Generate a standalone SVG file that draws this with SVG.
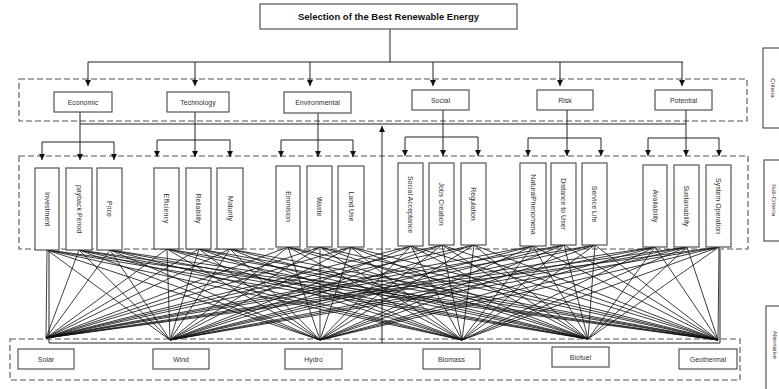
<svg xmlns="http://www.w3.org/2000/svg" width="779" height="389" viewBox="0 0 779 389">
<defs>
<marker id="arr" viewBox="0 0 10 10" refX="10" refY="5" markerWidth="6" markerHeight="6" orient="auto" markerUnits="userSpaceOnUse">
<path d="M0,0 L10,5 L0,10 z" fill="#111"/>
</marker>
</defs>
<style>
.box{fill:#fff;stroke:#444;stroke-width:1.1}
.dash{fill:none;stroke:#555;stroke-width:1.1;stroke-dasharray:6 3}
.ln{fill:none;stroke:#222;stroke-width:1}
.ar{fill:none;stroke:#222;stroke-width:1;marker-end:url(#arr)}
.m{stroke:#111;stroke-width:0.9;stroke-opacity:0.9}
.t{font-family:"Liberation Sans",Arial,sans-serif;font-size:7px;fill:#333;text-anchor:middle}
.tt{font-family:"Liberation Sans",Arial,sans-serif;font-size:9.5px;font-weight:bold;fill:#111;text-anchor:middle}
.s{font-family:"Liberation Sans",Arial,sans-serif;font-size:6px;fill:#333;text-anchor:middle}
</style>
<rect width="779" height="389" fill="#fff"/>

<!-- dashed level frames -->
<g id="frames">
<rect class="dash" x="19" y="79" width="728" height="42"/>
<rect class="dash" x="19" y="156" width="729" height="93"/>
<rect class="dash" x="10" y="339" width="730" height="41"/>
</g>

<!-- connectors -->
<g id="connectors">
<path class="ln" d="M390,29 V62 M88,62 H683"/>
<path class="ar" d="M88,62 V86"/>
<path class="ar" d="M195,62 V86"/>
<path class="ar" d="M310,62 V86"/>
<path class="ar" d="M433,62 V86"/>
<path class="ar" d="M560,62 V86"/>
<path class="ar" d="M682,62 V86"/>

<path class="ln" d="M80,112 V142 M42,142 H114"/>
<path class="ar" d="M42,142 V160"/><path class="ar" d="M80,142 V160"/><path class="ar" d="M114,142 V160"/>
<path class="ln" d="M195,112 V140 M157,140 H230"/>
<path class="ar" d="M157,140 V157"/><path class="ar" d="M195,140 V157"/><path class="ar" d="M230,140 V157"/>
<path class="ln" d="M318,113 V140 M281,140 H353"/>
<path class="ar" d="M281,140 V157"/><path class="ar" d="M318,140 V157"/><path class="ar" d="M353,140 V157"/>
<path class="ln" d="M443,110 V137 M405,137 H478"/>
<path class="ar" d="M405,137 V156"/><path class="ar" d="M443,137 V156"/><path class="ar" d="M478,137 V156"/>
<path class="ln" d="M567,110 V138 M528,138 H601"/>
<path class="ar" d="M528,138 V156"/><path class="ar" d="M567,138 V156"/><path class="ar" d="M601,138 V156"/>
<path class="ln" d="M686,110 V138 M648,138 H719"/>
<path class="ar" d="M648,138 V156"/><path class="ar" d="M686,138 V156"/><path class="ar" d="M719,138 V156"/>

<path class="ln" d="M80,124 H686"/>
<path class="ln" d="M49,248 V343 H720 V250"/>
<path class="ar" d="M382,343 V126"/>

<g id="mesh">
<line class="m" x1="47" y1="250" x2="46" y2="338"/><line class="m" x1="47" y1="250" x2="170" y2="340"/><line class="m" x1="47" y1="250" x2="320" y2="340"/><line class="m" x1="47" y1="250" x2="462" y2="340"/><line class="m" x1="47" y1="250" x2="588" y2="339"/><line class="m" x1="47" y1="250" x2="718" y2="340"/>
<line class="m" x1="79" y1="250" x2="46" y2="338"/><line class="m" x1="79" y1="250" x2="170" y2="340"/><line class="m" x1="79" y1="250" x2="320" y2="340"/><line class="m" x1="79" y1="250" x2="462" y2="340"/><line class="m" x1="79" y1="250" x2="588" y2="339"/><line class="m" x1="79" y1="250" x2="718" y2="340"/>
<line class="m" x1="110" y1="250" x2="46" y2="338"/><line class="m" x1="110" y1="250" x2="170" y2="340"/><line class="m" x1="110" y1="250" x2="320" y2="340"/><line class="m" x1="110" y1="250" x2="462" y2="340"/><line class="m" x1="110" y1="250" x2="588" y2="339"/><line class="m" x1="110" y1="250" x2="718" y2="340"/>
<line class="m" x1="167" y1="249" x2="46" y2="338"/><line class="m" x1="167" y1="249" x2="170" y2="340"/><line class="m" x1="167" y1="249" x2="320" y2="340"/><line class="m" x1="167" y1="249" x2="462" y2="340"/><line class="m" x1="167" y1="249" x2="588" y2="339"/><line class="m" x1="167" y1="249" x2="718" y2="340"/>
<line class="m" x1="199" y1="249" x2="46" y2="338"/><line class="m" x1="199" y1="249" x2="170" y2="340"/><line class="m" x1="199" y1="249" x2="320" y2="340"/><line class="m" x1="199" y1="249" x2="462" y2="340"/><line class="m" x1="199" y1="249" x2="588" y2="339"/><line class="m" x1="199" y1="249" x2="718" y2="340"/>
<line class="m" x1="230" y1="249" x2="46" y2="338"/><line class="m" x1="230" y1="249" x2="170" y2="340"/><line class="m" x1="230" y1="249" x2="320" y2="340"/><line class="m" x1="230" y1="249" x2="462" y2="340"/><line class="m" x1="230" y1="249" x2="588" y2="339"/><line class="m" x1="230" y1="249" x2="718" y2="340"/>
<line class="m" x1="288" y1="247" x2="46" y2="338"/><line class="m" x1="288" y1="247" x2="170" y2="340"/><line class="m" x1="288" y1="247" x2="320" y2="340"/><line class="m" x1="288" y1="247" x2="462" y2="340"/><line class="m" x1="288" y1="247" x2="588" y2="339"/><line class="m" x1="288" y1="247" x2="718" y2="340"/>
<line class="m" x1="320" y1="247" x2="46" y2="338"/><line class="m" x1="320" y1="247" x2="170" y2="340"/><line class="m" x1="320" y1="247" x2="320" y2="340"/><line class="m" x1="320" y1="247" x2="462" y2="340"/><line class="m" x1="320" y1="247" x2="588" y2="339"/><line class="m" x1="320" y1="247" x2="718" y2="340"/>
<line class="m" x1="351" y1="247" x2="46" y2="338"/><line class="m" x1="351" y1="247" x2="170" y2="340"/><line class="m" x1="351" y1="247" x2="320" y2="340"/><line class="m" x1="351" y1="247" x2="462" y2="340"/><line class="m" x1="351" y1="247" x2="588" y2="339"/><line class="m" x1="351" y1="247" x2="718" y2="340"/>
<line class="m" x1="411" y1="246" x2="46" y2="338"/><line class="m" x1="411" y1="246" x2="170" y2="340"/><line class="m" x1="411" y1="246" x2="320" y2="340"/><line class="m" x1="411" y1="246" x2="462" y2="340"/><line class="m" x1="411" y1="246" x2="588" y2="339"/><line class="m" x1="411" y1="246" x2="718" y2="340"/>
<line class="m" x1="442" y1="245" x2="46" y2="338"/><line class="m" x1="442" y1="245" x2="170" y2="340"/><line class="m" x1="442" y1="245" x2="320" y2="340"/><line class="m" x1="442" y1="245" x2="462" y2="340"/><line class="m" x1="442" y1="245" x2="588" y2="339"/><line class="m" x1="442" y1="245" x2="718" y2="340"/>
<line class="m" x1="474" y1="245" x2="46" y2="338"/><line class="m" x1="474" y1="245" x2="170" y2="340"/><line class="m" x1="474" y1="245" x2="320" y2="340"/><line class="m" x1="474" y1="245" x2="462" y2="340"/><line class="m" x1="474" y1="245" x2="588" y2="339"/><line class="m" x1="474" y1="245" x2="718" y2="340"/>
<line class="m" x1="533" y1="246" x2="46" y2="338"/><line class="m" x1="533" y1="246" x2="170" y2="340"/><line class="m" x1="533" y1="246" x2="320" y2="340"/><line class="m" x1="533" y1="246" x2="462" y2="340"/><line class="m" x1="533" y1="246" x2="588" y2="339"/><line class="m" x1="533" y1="246" x2="718" y2="340"/>
<line class="m" x1="564" y1="245" x2="46" y2="338"/><line class="m" x1="564" y1="245" x2="170" y2="340"/><line class="m" x1="564" y1="245" x2="320" y2="340"/><line class="m" x1="564" y1="245" x2="462" y2="340"/><line class="m" x1="564" y1="245" x2="588" y2="339"/><line class="m" x1="564" y1="245" x2="718" y2="340"/>
<line class="m" x1="595" y1="245" x2="46" y2="338"/><line class="m" x1="595" y1="245" x2="170" y2="340"/><line class="m" x1="595" y1="245" x2="320" y2="340"/><line class="m" x1="595" y1="245" x2="462" y2="340"/><line class="m" x1="595" y1="245" x2="588" y2="339"/><line class="m" x1="595" y1="245" x2="718" y2="340"/>
<line class="m" x1="655" y1="247" x2="46" y2="338"/><line class="m" x1="655" y1="247" x2="170" y2="340"/><line class="m" x1="655" y1="247" x2="320" y2="340"/><line class="m" x1="655" y1="247" x2="462" y2="340"/><line class="m" x1="655" y1="247" x2="588" y2="339"/><line class="m" x1="655" y1="247" x2="718" y2="340"/>
<line class="m" x1="687" y1="247" x2="46" y2="338"/><line class="m" x1="687" y1="247" x2="170" y2="340"/><line class="m" x1="687" y1="247" x2="320" y2="340"/><line class="m" x1="687" y1="247" x2="462" y2="340"/><line class="m" x1="687" y1="247" x2="588" y2="339"/><line class="m" x1="687" y1="247" x2="718" y2="340"/>
<line class="m" x1="719" y1="247" x2="46" y2="338"/><line class="m" x1="719" y1="247" x2="170" y2="340"/><line class="m" x1="719" y1="247" x2="320" y2="340"/><line class="m" x1="719" y1="247" x2="462" y2="340"/><line class="m" x1="719" y1="247" x2="588" y2="339"/><line class="m" x1="719" y1="247" x2="718" y2="340"/>
</g>
</g>

<!-- goal -->
<g id="goal">
<rect class="box" x="260" y="4" width="257" height="25"/>
<text class="tt" x="388.5" y="20">Selection of the Best Renewable Energy</text>
</g>

<!-- criteria -->
<g id="c-economic"><rect class="box" x="54" y="92" width="58" height="20"/><text class="t" x="83" y="104.5">Economic</text></g>
<g id="c-technology"><rect class="box" x="167" y="92" width="62" height="20"/><text class="t" x="198" y="104.5">Technology</text></g>
<g id="c-environmental"><rect class="box" x="284" y="92" width="67" height="21"/><text class="t" x="317.5" y="105">Environmental</text></g>
<g id="c-social"><rect class="box" x="412" y="90" width="57" height="20"/><text class="t" x="440.5" y="102.5">Social</text></g>
<g id="c-risk"><rect class="box" x="537" y="90" width="56" height="20"/><text class="t" x="565" y="102.5">Risk</text></g>
<g id="c-potential"><rect class="box" x="655" y="90" width="57" height="20"/><text class="t" x="683.5" y="102.5">Potential</text></g>

<!-- sub-criteria -->
<g id="s-investment"><rect class="box" x="35" y="168" width="24" height="82"/><text class="t" transform="translate(47,209) rotate(90)" dy="2.4">Investment</text></g>
<g id="s-payback"><rect class="box" x="66" y="168" width="26" height="82"/><text class="t" transform="translate(79,209) rotate(90)" dy="2.4">payback Period</text></g>
<g id="s-price"><rect class="box" x="97" y="168" width="25" height="82"/><text class="t" transform="translate(109.5,209) rotate(90)" dy="2.4">Price</text></g>
<g id="s-efficiency"><rect class="box" x="154" y="168" width="25" height="81"/><text class="t" transform="translate(166.5,208.5) rotate(90)" dy="2.4">Efficiency</text></g>
<g id="s-reliability"><rect class="box" x="186" y="168" width="25" height="81"/><text class="t" transform="translate(198.5,208.5) rotate(90)" dy="2.4">Reliability</text></g>
<g id="s-maturity"><rect class="box" x="217" y="168" width="26" height="81"/><text class="t" transform="translate(230,208.5) rotate(90)" dy="2.4">Maturity</text></g>
<g id="s-emmision"><rect class="box" x="276" y="166" width="24" height="81"/><text class="t" transform="translate(288,206.5) rotate(90)" dy="2.4">Emmision</text></g>
<g id="s-waste"><rect class="box" x="307" y="166" width="25" height="81"/><text class="t" transform="translate(319.5,206.5) rotate(90)" dy="2.4">Waste</text></g>
<g id="s-landuse"><rect class="box" x="338" y="166" width="26" height="81"/><text class="t" transform="translate(351,206.5) rotate(90)" dy="2.4">Land Use</text></g>
<g id="s-socialacceptance"><rect class="box" x="398" y="163" width="25" height="83"/><text class="t" transform="translate(410.5,204.5) rotate(90)" dy="2.4">Social Acceptance</text></g>
<g id="s-jobs"><rect class="box" x="429" y="163" width="25" height="82"/><text class="t" transform="translate(441.5,204) rotate(90)" dy="2.4">Jobs Creation</text></g>
<g id="s-regulation"><rect class="box" x="461" y="163" width="25" height="82"/><text class="t" transform="translate(473.5,204) rotate(90)" dy="2.4">Regulation</text></g>
<g id="s-natural"><rect class="box" x="520" y="163" width="26" height="83"/><text class="t" transform="translate(533,204.5) rotate(90)" dy="2.4">NaturalPhenomena</text></g>
<g id="s-distance"><rect class="box" x="551" y="163" width="25" height="82"/><text class="t" transform="translate(563.5,204) rotate(90)" dy="2.4">Distance to User</text></g>
<g id="s-servicelife"><rect class="box" x="582" y="163" width="25" height="82"/><text class="t" transform="translate(594.5,204) rotate(90)" dy="2.4">Service Life</text></g>
<g id="s-availability"><rect class="box" x="643" y="165" width="24" height="82"/><text class="t" transform="translate(655,206) rotate(90)" dy="2.4">Availability</text></g>
<g id="s-sustainability"><rect class="box" x="674" y="165" width="25" height="82"/><text class="t" transform="translate(686.5,206) rotate(90)" dy="2.4">Sustainability</text></g>
<g id="s-systemoperation"><rect class="box" x="706" y="165" width="25" height="82"/><text class="t" transform="translate(718.5,206) rotate(90)" dy="2.4">System Operation</text></g>

<!-- alternatives -->
<g id="a-solar"><rect class="box" x="18" y="349" width="56" height="20"/><text class="t" x="46" y="361.5">Solar</text></g>
<g id="a-wind"><rect class="box" x="153" y="349" width="56" height="20"/><text class="t" x="181" y="361.5">Wind</text></g>
<g id="a-hydro"><rect class="box" x="285" y="349" width="57" height="20"/><text class="t" x="313.5" y="361.5">Hydro</text></g>
<g id="a-biomass"><rect class="box" x="423" y="349" width="57" height="20"/><text class="t" x="451.5" y="361.5">Biomass</text></g>
<g id="a-biofuel"><rect class="box" x="552" y="347" width="57" height="20"/><text class="t" x="580.5" y="359.5">Biofuel</text></g>
<g id="a-geothermal"><rect class="box" x="679" y="349" width="58" height="20"/><text class="t" x="708" y="361.5">Geothermal</text></g>

<!-- level labels -->
<g id="l-criteria"><rect class="box" x="763" y="48" width="30" height="80"/><text class="s" transform="translate(773,88) rotate(90)" dy="2">Criteria</text></g>
<g id="l-subcriteria"><rect class="box" x="764" y="160" width="30" height="81"/><text class="s" transform="translate(774,200) rotate(90)" dy="2">Sub-Criteria</text></g>
<g id="l-alternative"><rect class="box" x="766" y="306" width="30" height="90"/><text class="s" transform="translate(775,345) rotate(90)" dy="2">Alternative</text></g>
</svg>
